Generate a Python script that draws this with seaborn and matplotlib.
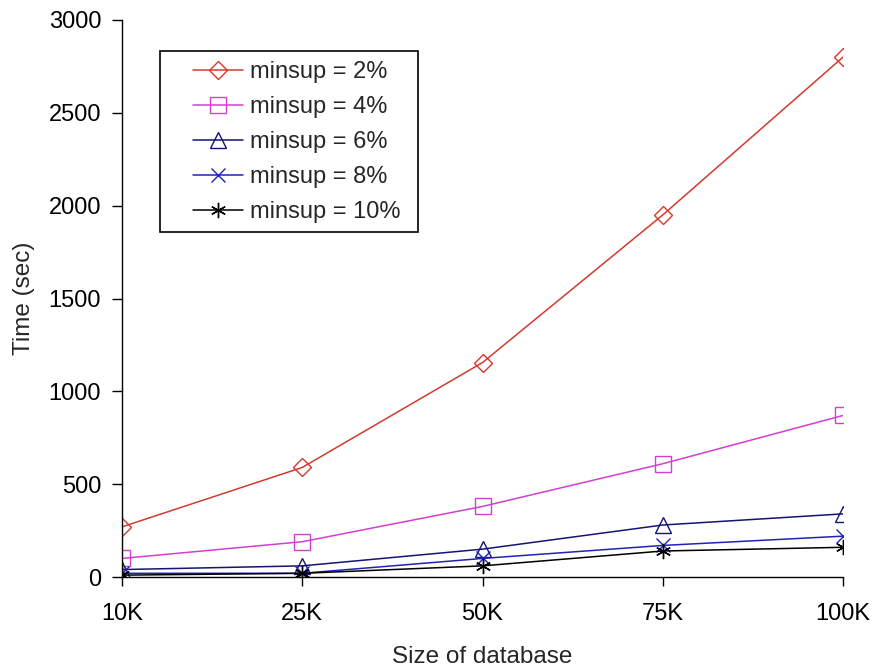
import matplotlib
matplotlib.use("Agg")
import matplotlib.pyplot as plt
import matplotlib.patches as mpatches
import seaborn as sns
import pandas as pd

sizes = ["10K", "25K", "50K", "75K", "100K"]
minsup_2 = [270, 590, 1155, 1950, 2800]
minsup_4 = [100, 190, 380, 610, 870]
minsup_6 = [40, 60, 150, 280, 340]
minsup_8 = [20, 20, 100, 170, 220]
minsup_10 = [10, 20, 60, 140, 160]
labels = ["minsup = 2%", "minsup = 4%", "minsup = 6%", "minsup = 8%", "minsup = 10%"]
yticks = [0, 500, 1000, 1500, 2000, 2500, 3000]

sns.set_style("ticks")
plt.rcParams["font.family"] = ["Liberation Sans", "DejaVu Sans"]

W, H = 875, 671
fig = plt.figure(figsize=(W / 100, H / 100), dpi=100)
ax = fig.add_axes([122 / W, 1 - 577 / H, (843 - 122) / W, (577 - 20) / H])

series = [minsup_2, minsup_4, minsup_6, minsup_8, minsup_10]
colors = ["#d23a2e", "#d23fd2", "#141472", "#2222b4", "#000000"]
markers = ["D", "s", "^", "x", (6, 2, 0)]
msizes = [9, 12, 12, 10, 11]

pos = list(range(len(sizes)))
for vals, lab, c, m, ms in zip(series, labels, colors, markers, msizes):
    df = pd.DataFrame({"pos": pos, "t": vals})
    sns.lineplot(data=df, x="pos", y="t", ax=ax, color=c, marker=m, markersize=ms,
                 mfc="none", mec=c, markeredgewidth=1.0, linewidth=1.1, label=lab)

ax.set_xlim(0, len(sizes) - 1)
ax.set_ylim(0, 3000)
ax.set_xticks(pos)
ax.set_xticklabels(sizes)
ax.set_yticks(yticks)
ax.tick_params(axis="both", labelsize=17, colors="black", direction="out", width=1)
ax.tick_params(axis="x", length=6.5, pad=12)
ax.tick_params(axis="y", length=7, pad=8)
for s in ["left", "bottom"]:
    ax.spines[s].set_color("black")
    ax.spines[s].set_linewidth(1)
sns.despine(ax=ax)
ax.set_xlabel("Size of database", fontsize=17.5, labelpad=15)
ax.set_ylabel("Time (sec)", fontsize=17.5, labelpad=10)

# legend frame box
rect = mpatches.Rectangle((160 / W, 1 - 232 / H), 258 / W, 181 / H,
                          transform=fig.transFigure, facecolor="white",
                          edgecolor="black", linewidth=1.2, zorder=4, clip_on=False)
ax.add_patch(rect)

leg = ax.legend(loc="upper left", bbox_to_anchor=((193 - 122) / 721, (577 - 61) / 557),
                fontsize=17, frameon=False, handlelength=2.1, handletextpad=0.3,
                labelspacing=0.55, borderpad=0, borderaxespad=0)
leg.set_zorder(5)

fig.savefig("out.png", dpi=100)
